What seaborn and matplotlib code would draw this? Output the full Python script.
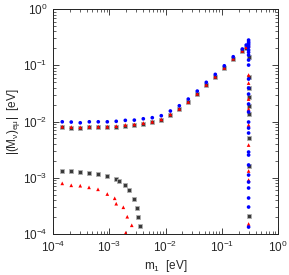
import numpy as np
import pandas as pd
import seaborn as sns
import matplotlib
matplotlib.use("Agg")
import matplotlib.pyplot as plt

# log-spaced m1 grid (eV) used for the main branches
m1_grid = [1.46e-4, 2.11e-4, 3.05e-4, 4.42e-4, 6.38e-4, 9.23e-4, 1.33e-3,
           1.93e-3, 2.79e-3, 4.03e-3, 5.82e-3, 8.41e-3, 1.22e-2, 1.76e-2,
           2.54e-2, 3.67e-2, 5.31e-2, 7.67e-2, 0.111, 0.160, 0.232, 0.272]

blue_upper = [0.0099, 0.0098, 0.0095, 0.0099, 0.0099, 0.0099, 0.0101, 0.0105,
              0.0106, 0.0112, 0.0117, 0.0127, 0.0154, 0.0191, 0.0251, 0.0348,
              0.0498, 0.069, 0.098, 0.142, 0.195, 0.229]
red_upper = [0.0081, 0.0080, 0.0079, 0.0081, 0.0081, 0.0081, 0.0083, 0.0087,
             0.0089, 0.0094, 0.0099, 0.0109, 0.0134, 0.0168, 0.0223, 0.0312,
             0.0450, 0.0628, 0.090, 0.131, 0.181, 0.210]
gray_upper = [0.0079, 0.0078, 0.0077, 0.0079, 0.0079, 0.0080, 0.0081, 0.0085,
              0.0087, 0.0092, 0.0097, 0.0107, 0.0131, 0.0165, 0.0219, 0.0307,
              0.0443, 0.0620, 0.089, 0.129, 0.178, 0.205]

# lower branches (vanish around m1 ~ few 1e-3)
gray_low_m1 = [1.45e-4, 2.11e-4, 3.05e-4, 4.37e-4, 6.38e-4, 9.23e-4, 1.33e-3,
               1.47e-3, 1.93e-3, 2.24e-3, 2.75e-3, 3.08e-3, 3.28e-3, 3.48e-3]
gray_low = [1.32e-3, 1.30e-3, 1.26e-3, 1.21e-3, 1.15e-3, 1.06e-3, 9.4e-4,
            8.9e-4, 7.3e-4, 6.1e-4, 4.2e-4, 2.94e-4, 2.03e-4, 1.41e-4]
red_low_m1 = [1.46e-4, 2.11e-4, 3.05e-4, 4.37e-4, 6.31e-4, 9.23e-4, 1.25e-3,
              1.33e-3, 1.78e-3, 2.09e-3, 2.51e-3, 1.96e-3]
red_low = [7.96e-4, 7.35e-4, 7.23e-4, 6.76e-4, 6.24e-4, 5.14e-4, 4.32e-4,
           3.46e-4, 2.99e-4, 2.03e-4, 1.43e-4, 1.05e-4]

# vertical spike at the largest m1
m1_spike = 0.30
blue_spike = [0.281, 0.26, 0.245, 0.229, 0.21, 0.187, 0.17, 0.152, 0.124, 0.101,
              0.057, 0.0394, 0.0308, 0.0205, 0.0148, 0.0098, 0.00766, 0.00625,
              0.00287, 0.00254, 0.00169, 0.00112, 8.4e-4, 6.58e-4, 4.37e-4,
              3.02e-4, 1.33e-4]
red_spike = [0.229, 0.0672, 0.0483, 0.0251, 0.0167, 0.00867, 0.00382, 0.00132,
             9.12e-4, 1.51e-4]
gray_spike = [0.14, 0.0618, 0.0394, 0.0273, 0.0189, 0.0136, 0.0051, 0.00162,
              2.09e-4]

gray_x = m1_grid + gray_low_m1 + [m1_spike] * len(gray_spike)
gray_y = gray_upper + gray_low + gray_spike
red_x = m1_grid + red_low_m1 + [m1_spike] * len(red_spike)
red_y = red_upper + red_low + red_spike
blue_x = m1_grid + [m1_spike] * len(blue_spike)
blue_y = blue_upper + blue_spike

sns.set_style("ticks")
plt.rcParams['font.family'] = ['Liberation Sans', 'DejaVu Sans']
plt.rcParams['mathtext.default'] = 'regular'

fig = plt.figure(figsize=(2.89, 2.75), dpi=100)
ax = fig.add_axes([0.1834, 0.149, 0.7786, 0.818])

sns.scatterplot(x=gray_x, y=gray_y, ax=ax, marker='s', s=8, color='#3a3a3a',
                edgecolor='#b0b0b0', linewidth=0.6, zorder=2)
sns.scatterplot(x=red_x, y=red_y, ax=ax, marker='^', s=7, color='red',
                edgecolor='none', linewidth=0, zorder=3)
sns.scatterplot(x=blue_x, y=blue_y, ax=ax, marker='o', s=7, color='blue',
                edgecolor='none', linewidth=0, zorder=4)

ax.set_xscale('log')
ax.set_yscale('log')
ax.set_xlim(1e-4, 1)
ax.set_ylim(1e-4, 1)
ax.set_xticks([1e-4, 1e-3, 1e-2, 1e-1, 1])
ax.set_yticks([1e-4, 1e-3, 1e-2, 1e-1, 1])
ax.tick_params(which='both', direction='in', top=True, right=True,
               labelsize=8.5, color='#222222')
ax.tick_params(which='major', length=4, width=0.6, pad=4)
ax.tick_params(which='minor', length=2, width=0.5)
for sp in ax.spines.values():
    sp.set_linewidth(0.7)
    sp.set_color('#222222')

ax.set_xlabel(r'm$_1$  [eV]', fontsize=8.5, labelpad=2)
ax.set_ylabel(r'|(M$_\nu$)$_{e\mu}$|  [eV]', fontsize=8.5, labelpad=1)

fig.savefig('out.png', dpi=100)
